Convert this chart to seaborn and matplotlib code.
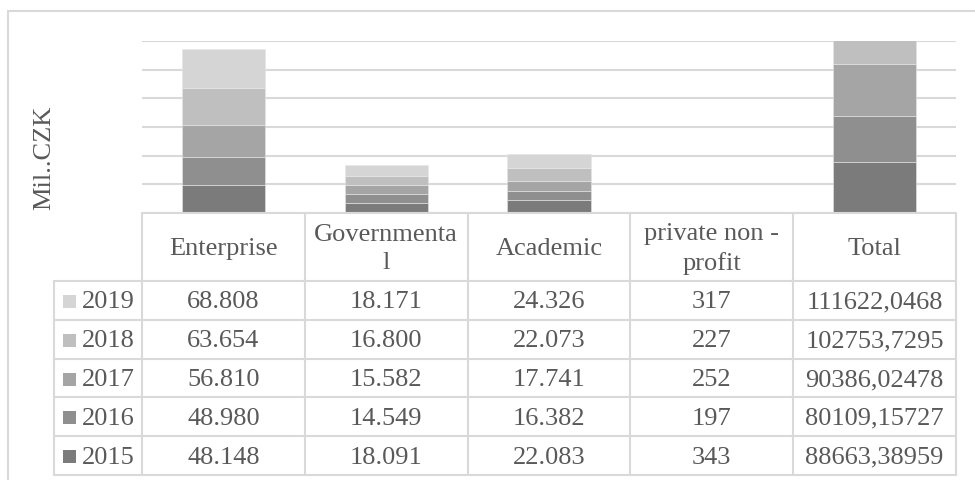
import matplotlib
matplotlib.use("Agg")
import matplotlib.pyplot as plt
import seaborn as sns
import pandas as pd
from matplotlib.lines import Line2D
from matplotlib.patches import Rectangle
from matplotlib import font_manager as fm

# ---- data ----
categories = ["Enterprise", "Governmental", "Academic", "private non-profit", "Total"]
header_labels = ["Enterprise", "Governmenta\nl", "Academic", "private non -\nprofit", "Total"]
years = ["2015", "2016", "2017", "2018", "2019"]
enterprise = [48148, 48980, 56810, 63654, 68808]
governmental = [18091, 14549, 15582, 16800, 18171]
academic = [22083, 16382, 17741, 22073, 24326]
private_np = [343, 197, 252, 227, 317]
total = [88663.38959, 80109.15727, 90386.02478, 102753.7295, 111622.0468]
year_colors = ["#7b7b7b", "#8f8f8f", "#a5a5a5", "#bfbfbf", "#d5d5d5"]

rows = []
for i, y in enumerate(years):
    for c, vals in zip(categories, [enterprise, governmental, academic, private_np, total]):
        rows.append({"year": y, "category": c, "value": vals[i]})
df = pd.DataFrame(rows)

sns.set_theme(style="white")
plt.rcParams["font.family"] = "serif"
plt.rcParams["font.serif"] = ["Liberation Serif", "DejaVu Serif"]
serif_path = fm.findfont(fm.FontProperties(family=["Liberation Serif"]))
TXT = "#595959"
GRID = "#d9d9d9"
FS = 19
FP = fm.FontProperties(fname=serif_path, size=FS)

W, H = 975, 481
fig = plt.figure(figsize=(W / 100, H / 100), dpi=100)

# pixel layout
x_left, x_right = 142, 956
y_top, y_base = 42, 214
ax = fig.add_axes([x_left / W, 1 - y_base / H, (x_right - x_left) / W, (y_base - y_top) / H])

bottom = [0.0] * len(categories)
for i, y in enumerate(years):
    sub = df[df["year"] == y].set_index("category").loc[categories].reset_index()
    sns.barplot(data=sub, x="category", y="value", order=categories, color=year_colors[i],
                bottom=bottom, width=0.51, ax=ax, saturation=1, zorder=3,
                edgecolor="#e6e6e6", linewidth=0.4)
    bottom = [b + v for b, v in zip(bottom, sub["value"])]

ax.set_ylim(0, 300000)
ax.set_xlim(-0.5, 4.5)
ax.set_yticks(range(0, 300001, 50000))
ax.yaxis.grid(True, color=GRID, linewidth=1.5, zorder=0)
ax.set_axisbelow(True)
ax.tick_params(left=False, bottom=False, labelleft=False, labelbottom=False)
for s in ax.spines.values():
    s.set_visible(False)
ax.set_xlabel("")
ax.set_ylabel("")

# overlay axes in pixel coordinates for table and frame
ov = fig.add_axes([0, 0, 1, 1], zorder=5)
ov.set_xlim(0, W)
ov.set_ylim(H, 0)
ov.axis("off")
ov.patch.set_alpha(0)

def hline(y, x0, x1):
    ov.add_line(Line2D([x0, x1], [y, y], color=GRID, lw=1.5))

def vline(x, y0, y1):
    ov.add_line(Line2D([x, x], [y0, y1], color=GRID, lw=1.5))

# outer chart frame
hline(12, 8, W + 5)
vline(8, 12, H + 5)

col_w = (x_right - x_left) / len(categories)
col_edges = [x_left + k * col_w for k in range(len(categories) + 1)]
leg_left = 54
header_top, header_bot = 214, 282
row_h = (476 - header_bot) / len(years)
row_edges = [header_bot + k * row_h for k in range(len(years) + 1)]

hline(header_top, x_left, x_right)
for y in row_edges:
    hline(y, leg_left, x_right)
for x in col_edges:
    vline(x, header_top, row_edges[-1])
vline(leg_left, header_bot, row_edges[-1])

# header text
for k, lab in enumerate(header_labels):
    cx = (col_edges[k] + col_edges[k + 1]) / 2
    ov.text(cx, (header_top + header_bot) / 2 + 1, lab, ha="center", va="center",
            fontproperties=FP, color=TXT, linespacing=1.35)

def fmt_int(v):
    return f"{int(round(v)):,}".replace(",", ".")

def fmt_total(v):
    return repr(v).replace(".", ",")

# data rows: 2019 at top down to 2015
series = [enterprise, governmental, academic, private_np, total]
for r, yi in enumerate(reversed(range(len(years)))):
    cy = (row_edges[r] + row_edges[r + 1]) / 2 + 1
    ov.add_patch(Rectangle((63, cy - 6.5), 13, 13, color=year_colors[yi], lw=0))
    ov.text(81.5, cy, years[yi], ha="left", va="center", fontproperties=FP, color=TXT)
    for k, vals in enumerate(series):
        cx = (col_edges[k] + col_edges[k + 1]) / 2
        v = vals[yi]
        if k == 4:
            s = fmt_total(v)
        elif k == 3:
            s = str(int(v))
        else:
            s = fmt_int(v)
        ov.text(cx, cy, s, ha="center", va="center", fontproperties=FP, color=TXT)

# y label
ov.text(44, 158, "Mil..CZK", rotation=90, ha="center", va="center", fontproperties=FP, color=TXT)

fig.savefig("out.png", dpi=100)
